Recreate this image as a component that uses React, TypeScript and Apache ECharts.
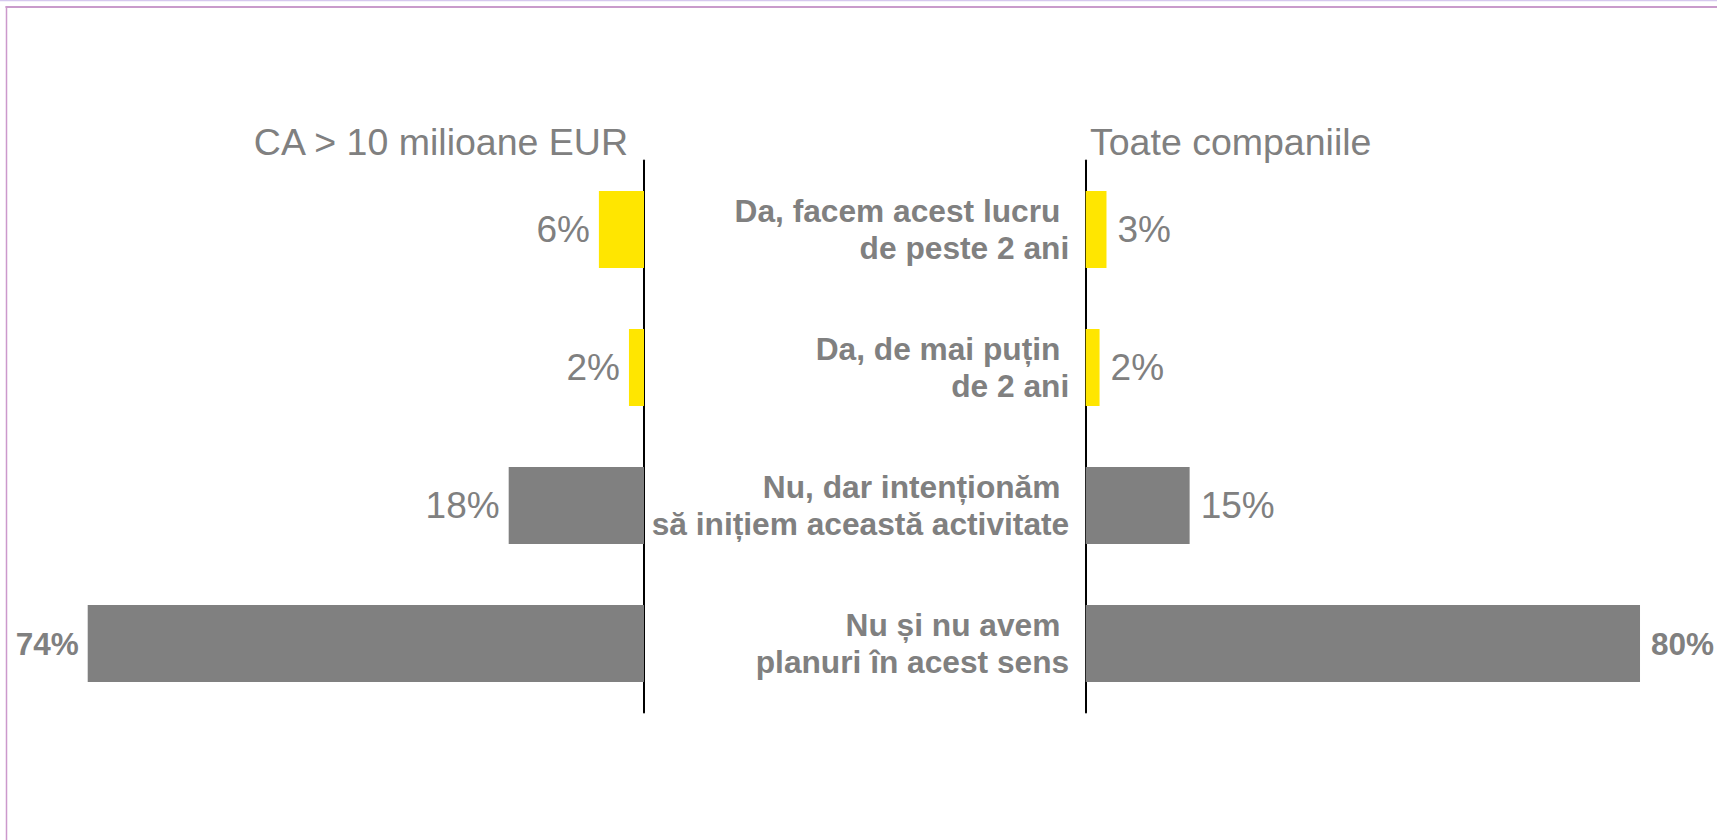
import React, { useEffect, useRef } from "react";
import * as echarts from "echarts";

const categories = [
  "Da, facem acest lucru \nde peste 2 ani",
  "Da, de mai puțin \nde 2 ani",
  "Nu, dar intenționăm \nsă inițiem această activitate",
  "Nu și nu avem \nplanuri în acest sens",
];
const valuesLarge = [6, 2, 18, 74];
const valuesAll = [3, 2, 15, 80];
const barColors = ["#FFE600", "#FFE600", "#808080", "#808080"];
const boldLabel = [false, false, false, true];
const titleLeft = "CA > 10 milioane EUR";
const titleRight = "Toate companiile";

const FONT = "'Liberation Sans', Arial, Helvetica, sans-serif";
const GRAY = "#808080";

function makeData(values: number[]) {
  return values.map((v, i) => ({
    value: v,
    itemStyle: { color: barColors[i] },
    label: boldLabel[i]
      ? { fontWeight: "bold", fontSize: 31.5 }
      : { fontWeight: "normal", fontSize: 37 },
  }));
}

export default function App() {
  const ref = useRef<HTMLDivElement>(null);
  useEffect(() => {
    if (!ref.current) return;
    const chart = echarts.init(ref.current, null, { renderer: "svg" });
    const option: any = {
      animation: false,
      backgroundColor: "#ffffff",
      textStyle: { fontFamily: FONT },
      grid: [
        { left: 42.6, top: 160.5, width: 601.4, height: 552, containLabel: false },
        { left: 1085.7, top: 160.5, width: 623.6, height: 552, containLabel: false },
      ],
      xAxis: [
        { type: "value", gridIndex: 0, min: 0, max: 80, inverse: true, show: false },
        { type: "value", gridIndex: 1, min: 0, max: 90, show: false },
      ],
      yAxis: [
        {
          type: "category",
          gridIndex: 0,
          data: categories,
          inverse: true,
          position: "right",
          axisLine: { show: true, lineStyle: { color: "#000000", width: 2 } },
          axisTick: { show: false },
          axisLabel: { show: false },
          splitLine: { show: false },
        },
        {
          type: "category",
          gridIndex: 1,
          data: categories,
          inverse: true,
          position: "left",
          axisLine: { show: true, lineStyle: { color: "#000000", width: 2 } },
          axisTick: { show: false },
          splitLine: { show: false },
          axisLabel: {
            show: true,
            margin: 16.5,
            color: GRAY,
            fontFamily: FONT,
            fontWeight: "bold",
            fontSize: 31.7,
            lineHeight: 37,
            align: "right",
          },
        },
      ],
      series: [
        {
          type: "bar",
          xAxisIndex: 0,
          yAxisIndex: 0,
          barWidth: 77,
          data: makeData(valuesLarge),
          label: {
            show: true,
            position: "left",
            distance: 9,
            color: GRAY,
            fontFamily: FONT,
            formatter: "{c}%",
          },
        },
        {
          type: "bar",
          xAxisIndex: 1,
          yAxisIndex: 1,
          barWidth: 77,
          data: makeData(valuesAll),
          label: {
            show: true,
            position: "right",
            distance: 11,
            color: GRAY,
            fontFamily: FONT,
            formatter: "{c}%",
          },
        },
      ],
      graphic: [
        {
          type: "line",
          shape: { x1: 0, y1: 0.5, x2: 1717, y2: 0.5 },
          style: { stroke: "#D6C8EE", lineWidth: 1.5 },
          silent: true,
        },
        {
          type: "line",
          shape: { x1: 5.5, y1: 7, x2: 1717, y2: 7 },
          style: { stroke: "#C99BCB", lineWidth: 2 },
          silent: true,
        },
        {
          type: "line",
          shape: { x1: 6.5, y1: 6, x2: 6.5, y2: 840 },
          style: { stroke: "#CC99CC", lineWidth: 1.5 },
          silent: true,
        },
        {
          type: "text",
          x: 628,
          y: 142,
          style: {
            text: titleLeft,
            fill: GRAY,
            font: `37.5px ${FONT}`,
            align: "right",
            verticalAlign: "middle",
          },
        },
        {
          type: "text",
          x: 1090,
          y: 142,
          style: {
            text: titleRight,
            fill: GRAY,
            font: `37.5px ${FONT}`,
            align: "left",
            verticalAlign: "middle",
          },
        },
      ],
    };
    chart.setOption(option);
    return () => chart.dispose();
  }, []);
  return (
    <div
      ref={ref}
      style={{ position: "fixed", left: 0, top: 0, width: "1717px", height: "840px", background: "#fff" }}
    />
  );
}
